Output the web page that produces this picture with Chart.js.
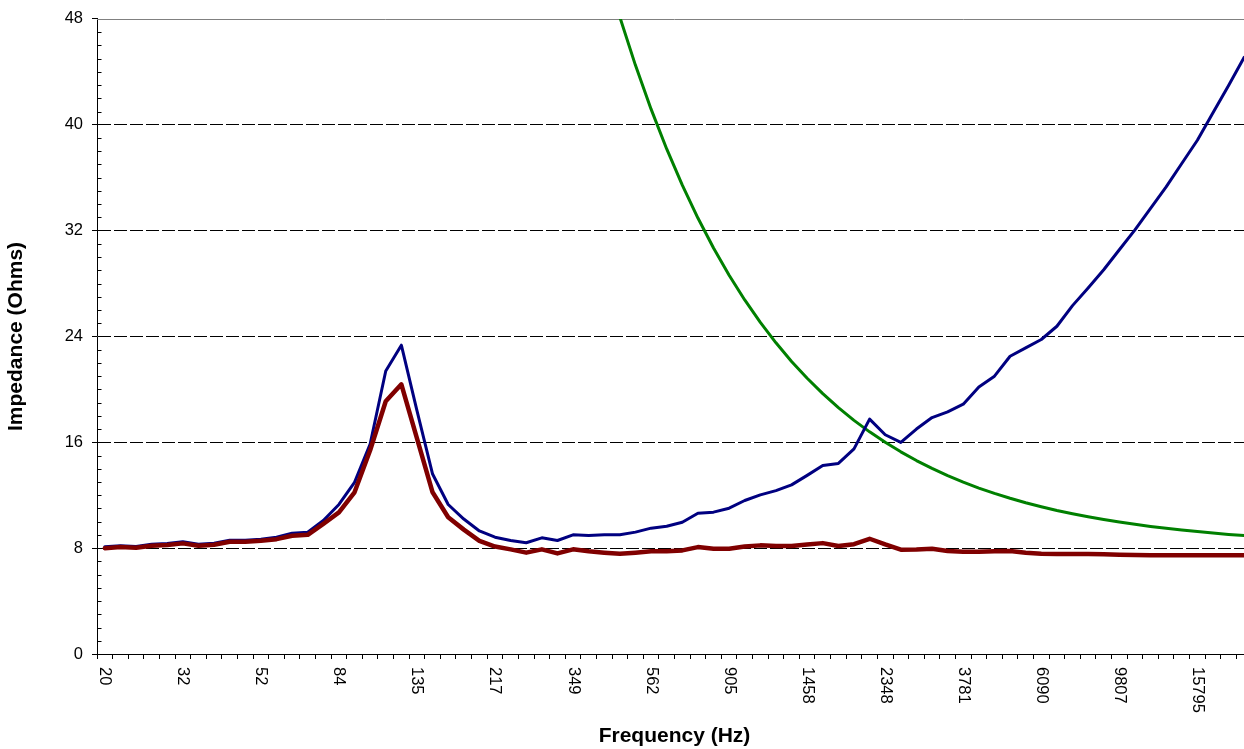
<!DOCTYPE html>
<html>
<head>
<meta charset="utf-8">
<script src="https://cdn.jsdelivr.net/npm/chart.js@4/dist/chart.umd.min.js"></script>
<style>
    html, body { margin: 0; padding: 0; background: #fff; overflow: hidden; }
    #wrap { width: 1244px; height: 749px; overflow: hidden; }
</style>
</head>
<body>
<div id="wrap"><canvas id="impChart" width="1252" height="749"></canvas></div>
<script>
// frequency categories (Hz), 10% steps
const freqLabels = ['20','22','24','27','29','32','35','39','43','47','52','57','63','69','76','84','92','101','111','122',
    '135','148','163','179','197','217','238','262','288','317','349','384','422','465','511','562','618','680','748','823',
    '905','996','1095','1205','1325','1458','1604','1764','1940','2134','2348','2583','2841','3125','3437','3781','4159','4575','5033','5536',
    '6090','6699','7368','8105','8916','9807','10788','11867','13054','14359','15795','17374','19112','21023'];

// every 5th category gets a label
const labelStep = 5;

const yTicks = [0, 8, 16, 24, 32, 40, 48];

// blue: raw impedance (Ohms)
const rawImpedance = [8.1, 8.18, 8.13, 8.3, 8.35, 8.48, 8.3, 8.38, 8.6, 8.6,
    8.68, 8.82, 9.13, 9.21, 10.09, 11.3, 12.97, 15.87, 21.39, 23.34,
    18.4, 13.6, 11.3, 10.2, 9.3, 8.83, 8.58, 8.41, 8.78, 8.58,
    9.01, 8.96, 9.01, 9.01, 9.21, 9.51, 9.66, 9.96, 10.64, 10.72,
    11.02, 11.6, 12.03, 12.35, 12.78, 13.5, 14.25, 14.4, 15.5, 17.75,
    16.57, 15.99, 17.0, 17.87, 18.3, 18.88, 20.18, 21.0, 22.5, 23.14,
    23.77, 24.77, 26.33, 27.66, 29.04, 30.55, 32.06, 33.68, 35.3, 37.07,
    38.83, 40.9, 42.97, 45.1];

// red: compensated impedance (Ohms)
const compImpedance = [8.00, 8.08, 8.03, 8.18, 8.23, 8.36, 8.18, 8.26, 8.48, 8.48,
    8.56, 8.68, 8.94, 9.01, 9.84, 10.7, 12.22, 15.4, 19.1, 20.38,
    16.3, 12.22, 10.34, 9.4, 8.55, 8.12, 7.91, 7.66, 7.91, 7.6,
    7.91, 7.76, 7.66, 7.58, 7.66, 7.76, 7.76, 7.83, 8.08, 7.96,
    7.96, 8.13, 8.21, 8.16, 8.16, 8.28, 8.38, 8.16, 8.3, 8.71,
    8.28, 7.88, 7.9, 7.96, 7.78, 7.73, 7.73, 7.76, 7.78, 7.66,
    7.58, 7.56, 7.56, 7.56, 7.53, 7.51, 7.48, 7.46, 7.46, 7.46,
    7.46, 7.46, 7.46, 7.46];

// green: network impedance (Ohms), off the top below ~420 Hz
const netImpedance = [null, null, null, null, null, null, null, null, null, null,
    null, null, null, null, null, null, null, null, null, null,
    null, null, null, null, null, null, null, null, null, null,
    null, null, 52.14, 48.13, 44.49, 41.18, 38.17, 35.43, 32.95, 30.69,
    28.63, 26.76, 25.06, 23.52, 22.11, 20.84, 19.68, 18.62, 17.66, 16.79,
    16.00, 15.28, 14.62, 14.03, 13.48, 12.99, 12.54, 12.14, 11.77, 11.43,
    11.13, 10.85, 10.60, 10.37, 10.16, 9.97, 9.80, 9.64, 9.50, 9.37,
    9.25, 9.14, 9.04, 8.96];

const FONT = 'Arial, "Liberation Sans", sans-serif';

// excel-ish extras: gray frame on top, minor y ticks, rotated x labels
const extrasPlugin = {
    id: 'extras',
    beforeDatasetsDraw(chart) {
        const { ctx, chartArea: a } = chart;
        ctx.save();
        ctx.strokeStyle = '#808080';
        ctx.lineWidth = 1;
        ctx.beginPath();
        ctx.moveTo(a.left, Math.round(a.top) + 0.5);
        ctx.lineTo(a.right, Math.round(a.top) + 0.5);
        ctx.lineTo(a.right - 0.5, a.bottom);
        ctx.stroke();
        ctx.restore();
    },
    afterDraw(chart) {
        const { ctx, chartArea: a } = chart;
        const y = chart.scales.y;
        const x = chart.scales.x;
        ctx.save();
        ctx.strokeStyle = '#000';
        ctx.lineWidth = 1;
        ctx.beginPath();
        for (let v = 0; v <= 48; v++) {
            if (v % 8 === 0) continue;
            const py = Math.round(y.getPixelForValue(v)) + 0.5;
            ctx.moveTo(a.left, py);
            ctx.lineTo(a.left + 4.5, py);
        }
        ctx.stroke();

        ctx.fillStyle = '#000';
        ctx.font = '16.5px ' + FONT;
        ctx.textAlign = 'left';
        ctx.textBaseline = 'middle';
        freqLabels.forEach((lab, i) => {
            if (i % labelStep !== 0) return;
            const px = x.getPixelForValue(i);
            ctx.save();
            ctx.translate(px, x.top + 13);
            ctx.rotate(Math.PI / 2);
            ctx.fillText(lab, 0, 0);
            ctx.restore();
        });
        ctx.restore();
    }
};

new Chart(document.getElementById('impChart').getContext('2d'), {
    type: 'line',
    data: {
        labels: freqLabels,
        datasets: [
            { label: 'Compensated', data: compImpedance, borderColor: '#800000', borderWidth: 4.5, order: 0 },
            { label: 'Raw', data: rawImpedance, borderColor: '#000080', borderWidth: 3, order: 1 },
            { label: 'Network', data: netImpedance, borderColor: '#008000', borderWidth: 3, order: 2 }
        ]
    },
    options: {
        responsive: false,
        animation: false,
        events: [],
        layout: { padding: { top: 17, right: 0, bottom: 0, left: 0 } },
        elements: {
            point: { radius: 0 },
            line: { tension: 0, borderJoinStyle: 'round', borderCapStyle: 'round' }
        },
        datasets: { line: { clip: 0, spanGaps: false } },
        plugins: { legend: { display: false }, tooltip: { enabled: false } },
        scales: {
            x: {
                type: 'category',
                offset: true,
                grid: { offset: true, drawOnChartArea: false, drawTicks: true, tickLength: 5, color: '#000' },
                border: { color: '#000', width: 1 },
                ticks: { display: false, autoSkip: false },
                title: {
                    display: true, text: 'Frequency (Hz)', color: '#000',
                    font: { family: FONT, size: 21, weight: 'bold' },
                    padding: { top: 0, bottom: 0.5 }
                },
                afterFit: s => { s.height = 95; }
            },
            y: {
                min: 0, max: 48,
                afterBuildTicks: s => { s.ticks = yTicks.map(v => ({ value: v })); },
                grid: {
                    color: c => (c.tick && c.tick.value === 48) ? 'rgba(0,0,0,0)' : '#000',
                    tickColor: '#000', tickLength: 5, lineWidth: 1
                },
                border: { color: '#000', width: 1, dash: [13, 3] },
                ticks: { color: '#000', padding: 9, font: { family: FONT, size: 16.5 } },
                title: {
                    display: true, text: 'Impedance (Ohms)', color: '#000',
                    font: { family: FONT, size: 21, weight: 'bold' },
                    padding: { top: 3.5, bottom: 0 }
                },
                afterFit: s => { s.width = 97; }
            }
        }
    },
    plugins: [extrasPlugin]
});
</script>
</body>
</html>
